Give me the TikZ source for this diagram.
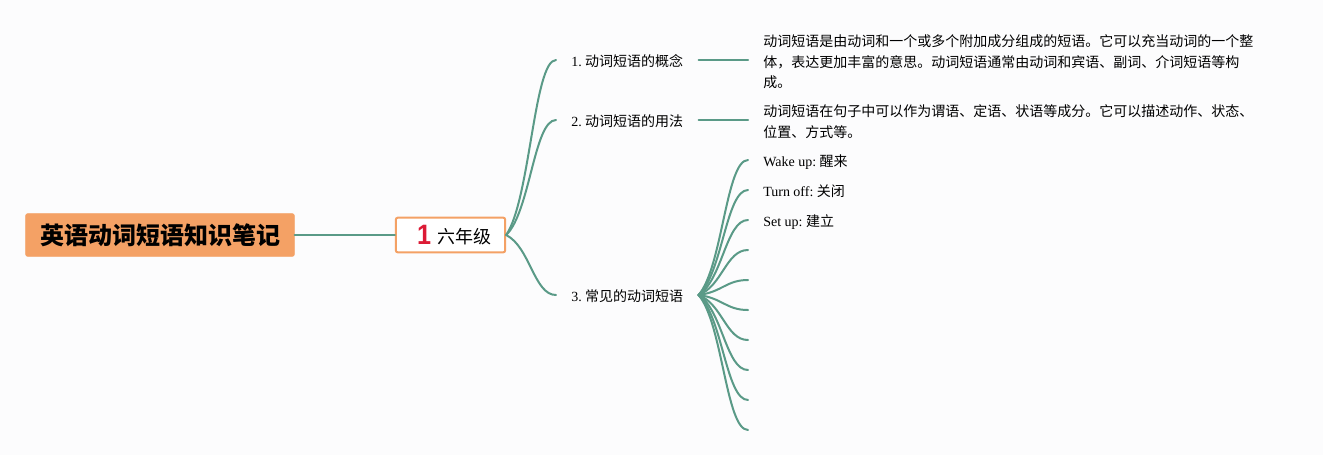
\documentclass[tikz,border=0pt]{standalone}
\usepackage{fontspec}
\setmainfont{Liberation Serif}
\newfontfamily\cjk{Noto Sans CJK SC}
\newfontfamily\numfont{Liberation Sans}
\usetikzlibrary{positioning,calc}
\usepackage{xcolor}
\definecolor{canvas}{HTML}{FCFCFD}
\definecolor{branch}{HTML}{5A9A87}
\definecolor{peach}{HTML}{F4A165}
\definecolor{numred}{HTML}{DC1A35}
\tikzset{
  rootbox/.style={fill=peach,draw=peach,rounded corners=1.5pt,minimum width=201.5pt,minimum height=32pt,inner sep=0pt,font=\fontsize{18}{22}\selectfont\cjk\bfseries},
  gradebox/.style={fill=white,draw=peach,line width=1.5pt,rounded corners=1.5pt,minimum width=82pt,minimum height=26pt,inner sep=0pt,font=\fontsize{13.5}{16}\selectfont\cjk},
  topic/.style={inner xsep=11.25pt,inner ysep=0pt,text height=12pt,text depth=3pt,anchor=west,font=\fontsize{10.5}{15.4}\selectfont},
  detail/.style={inner xsep=11.25pt,inner ysep=0pt,anchor=west,align=left,font=\fontsize{10.5}{15.4}\selectfont},
  phrase/.style={detail,text height=12pt,text depth=3pt},
  conn/.style={draw=branch,line width=1.5pt,line cap=round},
}
\begin{document}
\begin{tikzpicture}[x=0.75pt,y=-0.75pt]
    \fill[canvas] (0,0) rectangle (1323,455);
    \useasboundingbox (0,0) rectangle (1323,455);
    \node[rootbox] (root) at (160,235) {英语动词短语知识笔记};
    \node[gradebox] (grade) at (450.5,235) {\hspace*{6pt}\raisebox{-0.5pt}{\textcolor{numred}{\scalebox{0.9}[1]{\numfont\fontsize{21}{21}\selectfont\bfseries 1}}}\hspace{5pt}\raisebox{0.5pt}{六年级}};
    \node[topic] (concept) at (556,60)  {1.\hspace{2.6pt}{\cjk 动词短语的概念}};
    \node[topic] (usage)   at (556,120) {2.\hspace{2.6pt}{\cjk 动词短语的用法}};
    \node[topic] (common)  at (556,295) {3.\hspace{2.6pt}{\cjk 常见的动词短语}};
    \node[detail] (conceptinfo) at (748,62) {\cjk 动词短语是由动词和一个或多个附加成分组成的短语。它可以充当动词的一个整\\\cjk 体，表达更加丰富的意思。动词短语通常由动词和宾语、副词、介词短语等构\\\cjk 成。};
    \node[detail] (usageinfo) at (748,121.5) {\cjk 动词短语在句子中可以作为谓语、定语、状语等成分。它可以描述动作、状态、\\\cjk 位置、方式等。};
    \node[phrase] (wake) at (748,160) {Wake up:\hspace{2.6pt}{\cjk 醒来}};
    \node[phrase] (turn) at (748,190) {Turn off:\hspace{2.6pt}{\cjk 关闭}};
    \node[phrase] (set)  at (748,220) {Set up:\hspace{2.6pt}{\cjk 建立}};
    \foreach \i/\yy in {4/250,5/280,6/310,7/340,8/370,9/400,10/430}
      \coordinate (phrase\i) at (748,\yy);
    \draw[conn] (root.east) -- (grade.west);
    \foreach \t in {concept,usage,common}
      \draw[conn] (grade.east) .. controls ($(grade.east)!0.2!(\t.west)+(14,0)$) and ($(\t.west)+(-22,0)$) .. (\t.west);
    \draw[conn] (concept.east) -- (concept.east -| conceptinfo.west);
    \draw[conn] (usage.east) -- (usage.east -| usageinfo.west);
    \foreach \p in {wake.west,turn.west,set.west,phrase4,phrase5,phrase6,phrase7,phrase8,phrase9,phrase10}
      \draw[conn] (common.east) .. controls ($(common.east)!0.2!(\p)+(14,0)$) and ($(\p)+(-22,0)$) .. (\p);
\end{tikzpicture}
\end{document}
